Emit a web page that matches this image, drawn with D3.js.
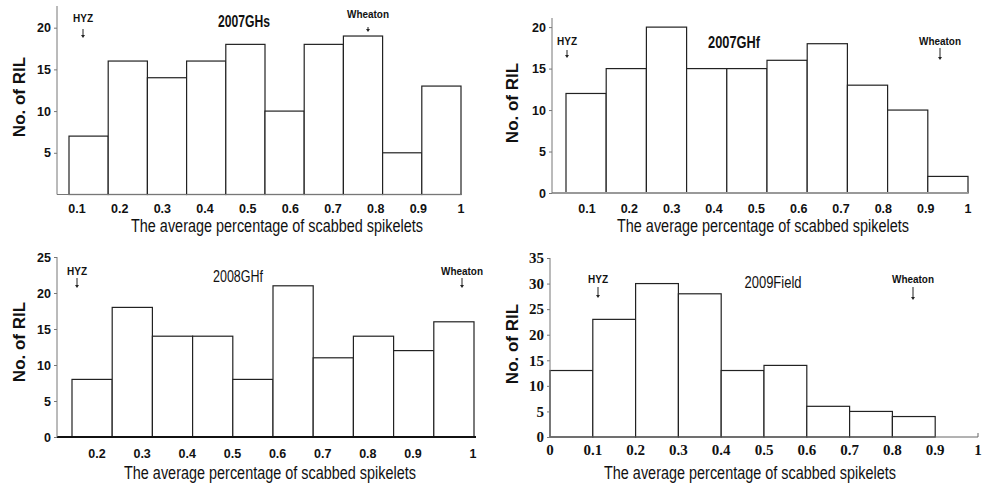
<!DOCTYPE html>
<html>
<head>
<meta charset="utf-8">
<script src="https://cdn.jsdelivr.net/npm/d3@7"></script>
<style>
  body { margin: 0; background: #fff; }
  text { font-family: Arial, "Liberation Sans", sans-serif; }
</style>
</head>
<body>
<div class="container"></div>
<script>
// counts of RIL per bin
var ghs2007 = [7, 16, 14, 16, 18, 10, 18, 19, 5, 13];
var ghf2007 = [12, 15, 20, 15, 15, 16, 18, 13, 10, 2];
var ghf2008 = [8, 18, 14, 14, 8, 21, 11, 14, 12, 16];
var field2009 = [13, 23, 30, 28, 13, 14, 6, 5, 4];

var ticks07 = [0.1, 0.2, 0.3, 0.4, 0.5, 0.6, 0.7, 0.8, 0.9, 1];
var ticks08 = [0.2, 0.3, 0.4, 0.5, 0.6, 0.7, 0.8, 0.9, 1];
var ticks09 = [0, 0.1, 0.2, 0.3, 0.4, 0.5, 0.6, 0.7, 0.8, 0.9, 1];

var xTitle = "The average percentage of scabbed spikelets";

var svg = d3.select(".container").append("svg")
    .attr("width", 987)
    .attr("height", 485);

var panels = [
  { data: ghs2007, title: "2007GHs", titleW: 52, titleXY: [244, 27], titleBold: true,
    axisX: 57, yTop: 6, yZero: 194.5, yMax: 22.6, yTicks: [5, 10, 15, 20],
    bars: [69, 461], baseEnd: 462,
    tickVals: ticks07, labDom: [0.1, 1], labRange: [77, 461], labY: 213,
    xTitleXY: [277, 232], yLabXY: [25, 97],
    hyz: [83, 22, 29, 38], wheaton: [368, 18, 27, 32], baseColor: "#777", baseW: 1 },
  { data: ghf2007, title: "2007GHf", titleW: 52, titleXY: [734, 48], titleBold: true,
    axisX: 552, yTop: 18, yZero: 193, yMax: 21.1, yTicks: [0, 5, 10, 15, 20],
    bars: [566, 968], baseEnd: 968,
    tickVals: ticks07, labDom: [0.1, 1], labRange: [587, 968], labY: 213,
    xTitleXY: [763, 232], yLabXY: [518, 103],
    hyz: [567, 45, 50, 58], wheaton: [940, 45, 48, 60], baseColor: "#999", baseW: 2.2 },
  { data: ghf2008, title: "2008GHf", titleW: 50, titleXY: [238, 282], titleBold: false,
    axisX: 57, yTop: 257, yZero: 437, yMax: 25, yTicks: [0, 5, 10, 15, 20, 25],
    bars: [72, 474], baseEnd: 476,
    tickVals: ticks08, labDom: [0.2, 0.9, 1], labRange: [97, 413, 473], labY: 458,
    xTitleXY: [270, 479], yLabXY: [25, 342],
    hyz: [77, 275, 278, 288], wheaton: [462, 275, 278, 288], baseColor: "#111", baseW: 2 },
  { data: field2009, title: "2009Field", titleW: 57, titleXY: [773, 288], titleBold: false,
    axisX: 550, yTop: 258, yZero: 437, yMax: 35, yTicks: [0, 5, 10, 15, 20, 25, 30, 35],
    bars: [550, 935.2], baseEnd: 978, serif: true,
    tickVals: ticks09, labDom: [0, 1], labRange: [550, 978], labY: 455,
    xTitleXY: [750, 479], yLabXY: [518, 344],
    hyz: [598, 283, 287, 298], wheaton: [913, 283, 287, 300], baseColor: "#666", baseW: 1 }
];

panels.forEach(drawPanel);

function drawPanel(p) {
  var g = svg.append("g");
  var n = p.data.length;

  var x = d3.scaleLinear().domain([0, n]).range(p.bars);
  var y = d3.scaleLinear().domain([0, p.yMax]).range([p.yZero, p.yTop]);
  var lab = d3.scaleLinear().domain(p.labDom).range(p.labRange);

  // bars
  g.selectAll("rect.bar")
    .data(p.data)
    .enter().append("rect")
    .attr("class", "bar")
    .attr("x", function(d, i) { return x(i); })
    .attr("y", function(d) { return y(d); })
    .attr("width", function(d, i) { return x(i + 1) - x(i); })
    .attr("height", function(d) { return y(0) - y(d); })
    .style("fill", "#fff")
    .style("stroke", "#222")
    .style("stroke-width", 1.2);

  // baseline
  g.append("line")
    .attr("x1", p.axisX).attr("x2", p.baseEnd)
    .attr("y1", p.yZero).attr("y2", p.yZero)
    .style("stroke", p.baseColor)
    .style("stroke-width", p.baseW);

  if (p.serif) {
    g.append("line")
      .attr("x1", p.baseEnd).attr("x2", p.baseEnd)
      .attr("y1", p.yZero).attr("y2", p.yZero - 4)
      .style("stroke", "#666");
  }

  // y axis
  var yAxis = d3.axisLeft(y).tickValues(p.yTicks).tickSize(3).tickPadding(3);
  var ya = g.append("g")
    .attr("transform", "translate(" + p.axisX + ",0)")
    .call(yAxis);
  ya.select(".domain").remove();
  ya.selectAll("line").style("stroke", "#777");
  ya.selectAll("text")
    .style("font-family", p.serif ? "'Liberation Serif', 'Times New Roman', serif" : "Arial, 'Liberation Sans', sans-serif")
    .style("font-size", p.serif ? "15px" : "12.5px")
    .style("font-weight", "bold")
    .style("fill", "#111");
  g.append("line")
    .attr("x1", p.axisX).attr("x2", p.axisX)
    .attr("y1", p.yTop).attr("y2", p.yZero)
    .style("stroke", "#777");

  // x tick labels
  g.selectAll("text.xlab")
    .data(p.tickVals)
    .enter().append("text")
    .attr("class", "xlab")
    .attr("x", function(d) { return lab(d); })
    .attr("y", p.labY)
    .attr("text-anchor", "middle")
    .style("font-family", p.serif ? "'Liberation Serif', 'Times New Roman', serif" : null)
    .style("font-size", p.serif ? "15px" : "12.5px")
    .style("font-weight", "bold")
    .style("fill", "#111")
    .text(function(d) { return d; });

  // axis titles
  g.append("text")
    .attr("x", p.xTitleXY[0] - 146)
    .attr("y", p.xTitleXY[1])
    .attr("textLength", 292)
    .attr("lengthAdjust", "spacingAndGlyphs")
    .style("font-size", "17.5px")
    .style("fill", "#111")
    .text(xTitle);

  g.append("text")
    .attr("transform", "translate(" + p.yLabXY[0] + "," + p.yLabXY[1] + ") rotate(-90)")
    .attr("text-anchor", "middle")
    .style("font-size", "17px")
    .style("font-weight", "bold")
    .style("fill", "#111")
    .text("No. of RIL");

  // panel title
  g.append("text")
    .attr("x", p.titleXY[0] - p.titleW / 2)
    .attr("y", p.titleXY[1])
    .attr("textLength", p.titleW)
    .attr("lengthAdjust", "spacingAndGlyphs")
    .style("font-size", "17px")
    .style("font-weight", p.titleBold ? "bold" : "normal")
    .style("fill", "#111")
    .text(p.title);

  // parent markers
  [["HYZ", p.hyz, 20], ["Wheaton", p.wheaton, 42]].forEach(function(m) {
    var v = m[1];
    g.append("text")
      .attr("x", v[0] - m[2] / 2)
      .attr("y", v[1])
      .attr("textLength", m[2])
      .attr("lengthAdjust", "spacingAndGlyphs")
      .style("font-size", "11px")
      .style("font-weight", "bold")
      .style("fill", "#111")
      .text(m[0]);
    g.append("line")
      .attr("x1", v[0]).attr("x2", v[0])
      .attr("y1", v[2]).attr("y2", v[3] - 2)
      .style("stroke", "#222");
    g.append("path")
      .attr("d", "M" + (v[0] - 2) + "," + (v[3] - 3) + "L" + (v[0] + 2) + "," + (v[3] - 3) + "L" + v[0] + "," + v[3] + "Z")
      .style("fill", "#222");
  });
}
</script>
</body>
</html>
